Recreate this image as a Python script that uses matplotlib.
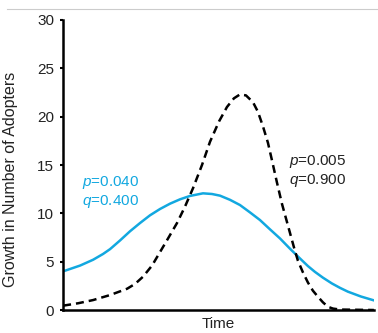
import matplotlib
matplotlib.use("Agg")
import matplotlib.pyplot as plt
from matplotlib.lines import Line2D

plt.rcParams["font.family"] = ["Liberation Sans", "DejaVu Sans"]
plt.rcParams["mathtext.fontset"] = "custom"
plt.rcParams["mathtext.rm"] = "Liberation Sans"
plt.rcParams["mathtext.it"] = "Liberation Sans:italic"

# ---- data (time in arbitrary units, 0..31) ----------------------------------
time_a = [0.0, 1.7, 3.0, 4.0, 4.7, 5.7, 6.7, 7.7, 8.7, 9.7, 10.7, 11.7,
          12.7, 14.0, 14.9, 15.7, 16.7, 17.7, 18.7, 19.7, 20.7, 21.7, 22.7,
          23.7, 24.5, 25.2, 26.0, 26.9, 27.7, 28.5, 29.8, 31.1]
adopt_a = [4.0, 4.6, 5.2, 5.8, 6.3, 7.2, 8.15, 9.0, 9.8, 10.45, 11.0, 11.45,
           11.8, 12.07, 12.0, 11.83, 11.4, 10.86, 10.1, 9.31, 8.35, 7.41,
           6.35, 5.34, 4.55, 3.95, 3.35, 2.75, 2.3, 1.9, 1.4, 1.0]

time_b = [0.0, 1.5, 3.0, 4.7, 6.4, 7.2, 8.0, 8.9, 9.7, 10.5, 11.4, 12.2,
          13.0, 13.9, 14.7, 15.6, 16.4, 17.1, 17.7, 18.3, 19.0, 19.5, 20.0,
          20.5, 20.9, 21.4, 21.9, 22.3, 22.7, 23.1, 23.5, 24.0, 24.5, 25.0,
          25.5, 26.0, 26.5, 27.0, 27.7, 31.1]
adopt_b = [0.45, 0.7, 1.03, 1.55, 2.2, 2.7, 3.45, 4.6, 6.0, 7.4, 9.0, 10.7,
           12.6, 15.0, 17.4, 19.5, 21.0, 21.9, 22.3, 22.2, 21.5, 20.5, 19.0,
           17.3, 15.5, 13.2, 11.0, 9.5, 8.0, 6.5, 5.1, 3.9, 2.85, 2.0, 1.38,
           0.8, 0.34, 0.15, 0.05, 0.0]

label_a = ["$p$=0.040", "$q$=0.400"]
label_b = ["$p$=0.005", "$q$=0.900"]
y_ticks = [0, 5, 10, 15, 20, 25, 30]

BLUE = "#12A8E0"
DARK = "#222222"

fig = plt.figure(figsize=(3.78, 3.33), dpi=100)
ax = fig.add_axes([0.167, 0.069, 0.822, 0.871])

ax.plot(time_a, adopt_a, color=BLUE, linewidth=1.8, solid_joinstyle="round")
ax.plot(time_b, adopt_b, color="black", linewidth=1.8, dashes=(3.2, 2.0))

ax.set_xlim(0, 31.1)
ax.set_ylim(0, 30)
ax.set_yticks(y_ticks)
ax.set_xticks([])
for s in ("top", "right"):
    ax.spines[s].set_visible(False)
for s in ("left", "bottom"):
    ax.spines[s].set_linewidth(1.8)
ax.tick_params(axis="y", length=2.5, width=1.5, labelsize=11, pad=4,
               labelcolor=DARK)
ax.set_ylabel("Growth in Number of Adopters", fontsize=11.5, color=DARK)
ax.yaxis.set_label_coords(-0.145, 0.452)
ax.set_xlabel("Time", fontsize=11, color=DARK, labelpad=5)

ax.text(1.9, 12.2, label_a[0] + "\n" + label_a[1], color=BLUE, fontsize=11,
        va="center", ha="left", linespacing=1.2)
ax.text(22.6, 14.4, label_b[0] + "\n" + label_b[1], color=DARK, fontsize=11,
        va="center", ha="left", linespacing=1.2)

# thin grey rule along the top edge
fig.add_artist(Line2D([0.018, 1.0], [0.972, 0.972], color="#cccccc",
                      linewidth=0.8, transform=fig.transFigure))

fig.savefig("out.png", dpi=100)
